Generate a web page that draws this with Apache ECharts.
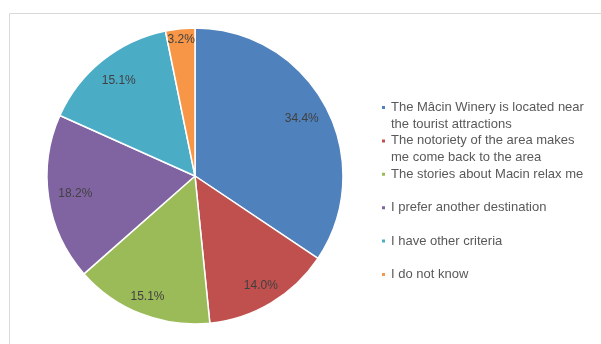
<!DOCTYPE html>
<html>
<head>
<meta charset="utf-8">
<script src="https://cdn.jsdelivr.net/npm/echarts@6/dist/echarts.min.js"></script>
<style>
  html, body { margin: 0; padding: 0; background: #fff; }
  #chart { width: 601px; height: 344px; }
</style>
</head>
<body>
<div id="chart"></div>
<script>
// Reasons for visiting (share of respondents, %)
const categories = [
  'The Mâcin Winery is located near\nthe tourist attractions',
  'The notoriety of the area makes\nme come back to the area',
  'The stories about Macin relax me',
  'I prefer another destination',
  'I have other criteria',
  'I do not know'
];
const shares = [34.4, 14.0, 15.1, 18.2, 15.1, 3.2];
const colors = ['#4F81BD', '#C0504D', '#9BBB59', '#8064A2', '#4BACC6', '#F79646'];

// Radial distance of each value label from the pie centre (px), "best fit" style
const labelRadius = [118, 125, 127, 118, 119, 134];

const CX = 195, CY = 176, R = 148;
const BAND = [92, 148];               // label ring; its middle sits at 120 px
const bandMid = (BAND[0] + BAND[1]) / 2;
const total = shares.reduce((a, b) => a + b, 0);

// Offset of each label along its slice bisector
let acc = 0;
const labelShift = shares.map((v, i) => {
  const mid = (acc + v / 2) / total * 2 * Math.PI;
  acc += v;
  const off = labelRadius[i] - bandMid;
  return [off * Math.sin(mid), -off * Math.cos(mid)];
});

const data = categories.map((name, i) => ({ name, value: shares[i] }));

// Legend marker: small square on the first text line of a two-line slot
const markerIcon = 'path://M0,0 M0,6 L5,6 L5,11 L0,11 Z M5,34';

const chart = echarts.init(document.getElementById('chart'), null, { renderer: 'canvas' });
chart.setOption({
  backgroundColor: '#fff',
  animation: false,
  color: colors,
  graphic: [{
    type: 'rect',
    shape: { x: 9.5, y: 13.5, width: 700, height: 400 },
    style: { fill: 'none', stroke: '#d9d9d9', lineWidth: 1 },
    silent: true
  }],
  legend: {
    orient: 'vertical',
    left: 375,
    top: 93,
    itemWidth: 5,
    itemHeight: 34,
    itemGap: -2.6,
    icon: markerIcon,
    selectedMode: false,
    formatter: name => name.indexOf('\n') >= 0 ? name : name + '\n ',
    textStyle: {
      fontFamily: 'Liberation Sans',
      fontSize: 13,
      lineHeight: 17,
      color: '#595959'
    },
    data: categories
  },
  series: [
    {
      type: 'pie',
      center: [CX, CY],
      radius: [0, R],
      startAngle: 90,
      clockwise: true,
      data: data,
      label: { show: false },
      labelLine: { show: false },
      itemStyle: { borderColor: '#fff', borderWidth: 1.5 },
      emphasis: { disabled: true }
    },
    {
      // transparent ring carrying the value labels
      type: 'pie',
      center: [CX, CY],
      radius: BAND,
      startAngle: 90,
      clockwise: true,
      silent: true,
      data: data,
      itemStyle: { color: 'rgba(0,0,0,0)', borderWidth: 0 },
      label: {
        show: true,
        position: 'inside',
        formatter: p => p.value.toFixed(1) + '%',
        fontFamily: 'Liberation Sans',
        fontSize: 12,
        color: '#404040'
      },
      labelLayout: p => ({ dx: labelShift[p.dataIndex][0], dy: labelShift[p.dataIndex][1] }),
      labelLine: { show: false },
      emphasis: { disabled: true }
    }
  ]
});
</script>
</body>
</html>
